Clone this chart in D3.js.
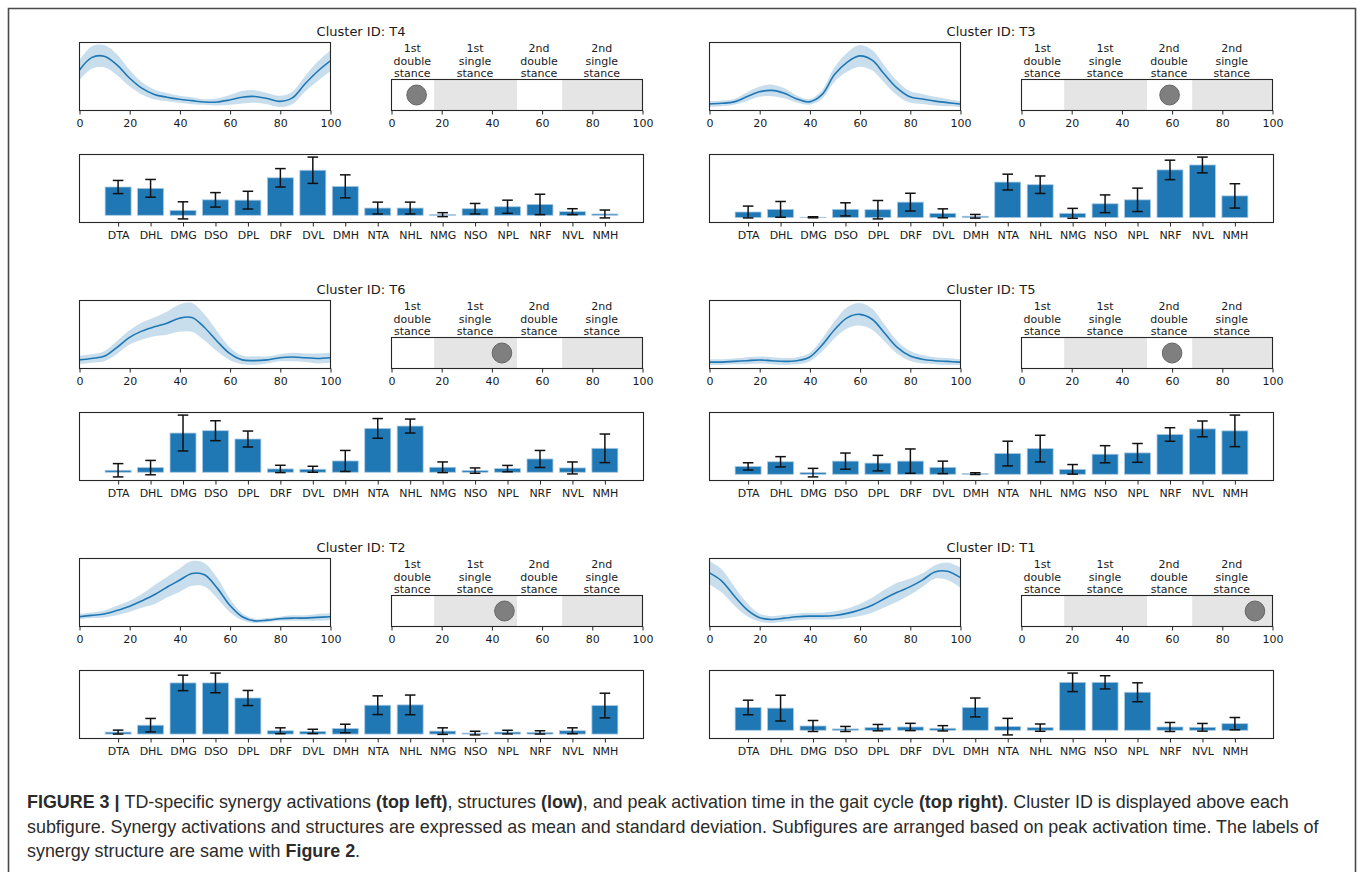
<!DOCTYPE html>
<html>
<head>
<meta charset="utf-8">
<script src="https://cdn.jsdelivr.net/npm/d3@7"></script>
<style>
  body { margin: 0; background: #fff; }
  svg { display: block; }
  .mpl text { font-family: "DejaVu Sans", sans-serif; fill: #1a1a1a; }
  .caption { font-family: "Liberation Sans", Arial, Helvetica, sans-serif; fill: #2b2b2b; }
</style>
</head>
<body>
<svg id="fig" width="1360" height="872"></svg>
<script>
// ---- data -------------------------------------------------------------
const gaitPct = [0, 5, 10, 15, 20, 25, 30, 35, 40, 45, 50, 55, 60, 65, 70, 75, 80, 85, 90, 95, 100];
const timeTicks = [0, 20, 40, 60, 80, 100];
const muscles = ["DTA", "DHL", "DMG", "DSO", "DPL", "DRF", "DVL", "DMH",
                 "NTA", "NHL", "NMG", "NSO", "NPL", "NRF", "NVL", "NMH"];
const phaseEdges = [0, 17, 50, 68, 100];
const phaseLabels = [["1st", "double", "stance"], ["1st", "single", "stance"],
                     ["2nd", "double", "stance"], ["2nd", "single", "stance"]];
const clusterIds = ["T4", "T3", "T6", "T5", "T2", "T1"];
const peakTimes = [10, 59, 44, 60, 45, 93];

// synergy activation (mean, sd) over the gait cycle
const t4ActMean = [0.57, 0.76, 0.78, 0.66, 0.47, 0.32, 0.23, 0.19, 0.16, 0.14, 0.12, 0.12, 0.15, 0.19, 0.20, 0.17, 0.13, 0.18, 0.38, 0.56, 0.71];
const t4ActSd   = [0.14, 0.16, 0.16, 0.15, 0.12, 0.09, 0.07, 0.06, 0.05, 0.05, 0.04, 0.05, 0.07, 0.09, 0.09, 0.08, 0.08, 0.09, 0.11, 0.14, 0.15];
const t3ActMean = [0.11, 0.12, 0.14, 0.21, 0.28, 0.30, 0.26, 0.18, 0.14, 0.24, 0.52, 0.69, 0.78, 0.72, 0.52, 0.33, 0.21, 0.18, 0.15, 0.13, 0.11];
const t3ActSd   = [0.04, 0.04, 0.04, 0.06, 0.07, 0.08, 0.07, 0.05, 0.04, 0.06, 0.10, 0.13, 0.15, 0.14, 0.12, 0.10, 0.08, 0.07, 0.06, 0.05, 0.04];
const t6ActMean = [0.13, 0.15, 0.18, 0.30, 0.44, 0.53, 0.59, 0.64, 0.71, 0.72, 0.58, 0.39, 0.22, 0.13, 0.12, 0.13, 0.16, 0.17, 0.16, 0.15, 0.16];
const t6ActSd   = [0.06, 0.06, 0.07, 0.09, 0.10, 0.12, 0.13, 0.16, 0.19, 0.20, 0.18, 0.14, 0.09, 0.06, 0.06, 0.05, 0.05, 0.06, 0.06, 0.07, 0.07];
const t5ActMean = [0.10, 0.10, 0.11, 0.12, 0.13, 0.12, 0.11, 0.12, 0.17, 0.34, 0.56, 0.73, 0.78, 0.71, 0.51, 0.31, 0.19, 0.14, 0.12, 0.11, 0.10];
const t5ActSd   = [0.04, 0.04, 0.04, 0.05, 0.05, 0.05, 0.05, 0.05, 0.06, 0.09, 0.12, 0.15, 0.16, 0.15, 0.12, 0.09, 0.07, 0.06, 0.05, 0.05, 0.04];
const t2ActMean = [0.13, 0.15, 0.17, 0.22, 0.28, 0.36, 0.45, 0.56, 0.66, 0.76, 0.74, 0.55, 0.30, 0.13, 0.07, 0.08, 0.10, 0.11, 0.11, 0.12, 0.13];
const t2ActSd   = [0.04, 0.04, 0.05, 0.07, 0.08, 0.10, 0.14, 0.15, 0.17, 0.18, 0.17, 0.15, 0.10, 0.05, 0.03, 0.03, 0.03, 0.04, 0.04, 0.05, 0.05];
const t1ActMean = [0.77, 0.65, 0.43, 0.23, 0.11, 0.08, 0.10, 0.12, 0.13, 0.13, 0.14, 0.17, 0.22, 0.29, 0.39, 0.48, 0.56, 0.66, 0.78, 0.79, 0.70];
const t1ActSd   = [0.17, 0.17, 0.14, 0.10, 0.06, 0.05, 0.05, 0.05, 0.05, 0.05, 0.06, 0.07, 0.09, 0.11, 0.13, 0.14, 0.12, 0.10, 0.10, 0.13, 0.15];

// synergy structure weights (mean, sd) per muscle
const t4Weight   = [0.43, 0.41, 0.075, 0.235, 0.23, 0.57, 0.685, 0.44, 0.11, 0.11, 0.01, 0.10, 0.13, 0.165, 0.055, 0.02];
const t4WeightSd = [0.10, 0.135, 0.13, 0.11, 0.135, 0.14, 0.20, 0.175, 0.09, 0.09, 0.03, 0.08, 0.10, 0.155, 0.045, 0.06];
const t3Weight   = [0.085, 0.125, 0.005, 0.125, 0.12, 0.235, 0.065, 0.02, 0.54, 0.50, 0.065, 0.21, 0.27, 0.725, 0.80, 0.33];
const t3WeightSd = [0.09, 0.12, 0.008, 0.10, 0.14, 0.135, 0.068, 0.028, 0.12, 0.133, 0.075, 0.135, 0.178, 0.148, 0.12, 0.185];
const t6Weight   = [0.03, 0.07, 0.59, 0.625, 0.50, 0.05, 0.045, 0.17, 0.66, 0.695, 0.075, 0.025, 0.055, 0.20, 0.065, 0.36];
const t6WeightSd = [0.10, 0.108, 0.27, 0.15, 0.12, 0.055, 0.045, 0.158, 0.148, 0.105, 0.08, 0.04, 0.048, 0.128, 0.09, 0.215];
const t5Weight   = [0.12, 0.19, 0.025, 0.20, 0.17, 0.20, 0.105, 0.01, 0.315, 0.39, 0.075, 0.305, 0.325, 0.605, 0.69, 0.66];
const t5WeightSd = [0.055, 0.078, 0.065, 0.123, 0.118, 0.185, 0.095, 0.013, 0.188, 0.203, 0.073, 0.13, 0.143, 0.103, 0.12, 0.24];
const t2Weight   = [0.03, 0.135, 0.78, 0.78, 0.55, 0.05, 0.04, 0.085, 0.44, 0.445, 0.045, 0.015, 0.03, 0.025, 0.05, 0.435];
const t2WeightSd = [0.03, 0.103, 0.118, 0.15, 0.115, 0.045, 0.033, 0.065, 0.143, 0.15, 0.05, 0.028, 0.028, 0.025, 0.045, 0.188];
const t1Weight   = [0.345, 0.335, 0.065, 0.02, 0.04, 0.05, 0.03, 0.345, 0.055, 0.04, 0.725, 0.725, 0.575, 0.05, 0.045, 0.10];
const t1WeightSd = [0.11, 0.195, 0.083, 0.038, 0.048, 0.055, 0.04, 0.143, 0.125, 0.055, 0.14, 0.10, 0.143, 0.068, 0.058, 0.093];

const actMeans = [t4ActMean, t3ActMean, t6ActMean, t5ActMean, t2ActMean, t1ActMean];
const actSds = [t4ActSd, t3ActSd, t6ActSd, t5ActSd, t2ActSd, t1ActSd];
const weights = [t4Weight, t3Weight, t6Weight, t5Weight, t2Weight, t1Weight];
const weightSds = [t4WeightSd, t3WeightSd, t6WeightSd, t5WeightSd, t2WeightSd, t1WeightSd];

// ---- layout -----------------------------------------------------------
const colX = [79, 709];
const rowY = [42, 300, 558];
const curveW = 251, curveH = 68;
const phaseOff = 312, phaseW = 251, phaseTop = 37;
const barTop = 112, barW = 564, barH = 68;

const blue = "#1f77b4";
const spine = "#262626";
const svg = d3.select("#fig");

// outer figure frame
svg.append("path")
  .attr("d", "M8.5,872 V8.5 H1355.5 V872")
  .attr("fill", "none").attr("stroke", "#4a4a4a").attr("stroke-width", 1.6);

function padded(lo, hi) {
  const m = (hi - lo) * 0.05;
  return [lo - m, hi + m];
}

function styleAxis(g) {
  g.select(".domain").remove();
  g.selectAll(".tick line").attr("stroke", spine).attr("stroke-width", 1);
  g.selectAll(".tick text").attr("font-size", 11).attr("fill", "#1a1a1a")
    .attr("font-family", "DejaVu Sans, sans-serif");
}

function frame(g, w, h) {
  g.append("rect").attr("x", 0.5).attr("y", 0.5).attr("width", w).attr("height", h)
    .attr("fill", "none").attr("stroke", spine).attr("stroke-width", 1.1);
}

clusterIds.forEach((id, i) => {
  const x0 = colX[i % 2], y0 = rowY[Math.floor(i / 2)];
  const root = svg.append("g").attr("class", "mpl");

  root.append("text")
    .attr("x", x0 + barW / 2).attr("y", y0 - 6)
    .attr("text-anchor", "middle").attr("font-size", 13)
    .text("Cluster ID: " + id);

  // --- activation curve with ±sd band
  const mean = actMeans[i], sd = actSds[i];
  const pts = gaitPct.map((t, k) => ({ t, m: mean[k], s: sd[k] }));
  const xs = d3.scaleLinear().domain([0, 100]).range([0, curveW]);
  const ys = d3.scaleLinear()
    .domain(padded(d3.min(pts, d => d.m - d.s), d3.max(pts, d => d.m + d.s)))
    .range([curveH, 0]);
  const gc = root.append("g").attr("transform", `translate(${x0},${y0})`);
  gc.append("defs").append("clipPath").attr("id", "clip" + id)
    .append("rect").attr("width", curveW).attr("height", curveH);
  const plot = gc.append("g").attr("clip-path", `url(#clip${id})`);
  plot.append("path").datum(pts)
    .attr("d", d3.area().curve(d3.curveCatmullRom)
      .x(d => xs(d.t)).y0(d => ys(d.m - d.s)).y1(d => ys(d.m + d.s)))
    .attr("fill", blue).attr("fill-opacity", 0.24);
  plot.append("path").datum(pts)
    .attr("d", d3.line().curve(d3.curveCatmullRom).x(d => xs(d.t)).y(d => ys(d.m)))
    .attr("fill", "none").attr("stroke", blue).attr("stroke-width", 1.6);
  frame(gc, curveW, curveH);
  gc.append("g").attr("transform", `translate(0.5,${curveH + 0.5})`)
    .call(d3.axisBottom(xs).tickValues(timeTicks).tickSize(4).tickPadding(4.5))
    .call(styleAxis);

  // --- gait phase strip with peak marker
  const px = d3.scaleLinear().domain([0, 100]).range([0, phaseW]);
  const gp = root.append("g").attr("transform", `translate(${x0 + phaseOff},${y0 + phaseTop})`);
  const ph = curveH - phaseTop;
  phaseLabels.forEach((lines, k) => {
    if (k % 2 === 1) {
      gp.append("rect")
        .attr("x", px(phaseEdges[k]) + 0.5).attr("y", 0.5)
        .attr("width", px(phaseEdges[k + 1]) - px(phaseEdges[k])).attr("height", ph)
        .attr("fill", "#e5e5e5");
    }
    const cx = px((phaseEdges[k] + phaseEdges[k + 1]) / 2);
    lines.forEach((s, j) => {
      gp.append("text")
        .attr("x", cx).attr("y", -27 + j * 12.7)
        .attr("text-anchor", "middle").attr("font-size", 11)
        .text(s);
    });
  });
  gp.append("ellipse")
    .attr("cx", px(peakTimes[i]) + 0.5).attr("cy", ph / 2 + 0.5)
    .attr("rx", 9.8).attr("ry", 10)
    .attr("fill", "#7f7f7f").attr("stroke", "#666").attr("stroke-width", 1);
  frame(gp, phaseW, ph);
  gp.append("g").attr("transform", `translate(0.5,${ph + 0.5})`)
    .call(d3.axisBottom(px).tickValues(timeTicks).tickSize(4).tickPadding(4.5))
    .call(styleAxis);

  // --- synergy structure bars with sd error bars
  const w = weights[i], ws = weightSds[i];
  const n = muscles.length;
  const mx = 0.05 * (n - 1 + 0.8);
  const bx = d3.scaleLinear().domain([-0.4 - mx, n - 1 + 0.4 + mx]).range([0, barW]);
  const by = d3.scaleLinear()
    .domain(padded(Math.min(0, d3.min(w, (v, k) => v - ws[k])), d3.max(w, (v, k) => v + ws[k])))
    .range([barH, 0]);
  const gb = root.append("g").attr("transform", `translate(${x0},${y0 + barTop})`);
  const bw = bx(0.4) - bx(-0.4);
  gb.selectAll("rect.bar").data(w).join("rect").attr("class", "bar")
    .attr("x", (v, k) => bx(k) - bw / 2 + 0.5)
    .attr("y", v => by(Math.max(0, v)))
    .attr("width", bw)
    .attr("height", v => Math.abs(by(0) - by(v)))
    .attr("fill", blue).attr("stroke", "#a9c9e3").attr("stroke-width", 0.8);
  const eb = gb.selectAll("g.err").data(w).join("g").attr("class", "err")
    .attr("stroke", "#111").attr("stroke-width", 1.5);
  eb.append("line")
    .attr("x1", (v, k) => bx(k) + 0.5).attr("x2", (v, k) => bx(k) + 0.5)
    .attr("y1", (v, k) => by(v - ws[k])).attr("y2", (v, k) => by(v + ws[k]));
  [-1, 1].forEach(sgn => {
    eb.append("line")
      .attr("x1", (v, k) => bx(k) - 5.3 + 0.5).attr("x2", (v, k) => bx(k) + 5.3 + 0.5)
      .attr("y1", (v, k) => by(v + sgn * ws[k])).attr("y2", (v, k) => by(v + sgn * ws[k]));
  });
  frame(gb, barW, barH);
  const bAxis = d3.axisBottom(bx).tickValues(d3.range(n)).tickFormat(k => muscles[k])
    .tickSize(4).tickPadding(5);
  gb.append("g").attr("transform", `translate(0.5,${barH + 0.5})`).call(bAxis).call(styleAxis);
});

// ---- caption ------------------------------------------------------------
const capLines = [
  [["FIGURE 3 | ", true], ["TD-specific synergy activations ", false], ["(top left)", true],
   [", structures ", false], ["(low)", true], [", and peak activation time in the gait cycle ", false],
   ["(top right)", true], [". Cluster ID is displayed above each", false]],
  [["subfigure. Synergy activations and structures are expressed as mean and standard deviation. Subfigures are arranged based on peak activation time. The labels of", false]],
  [["synergy structure are same with ", false], ["Figure 2", true], [".", false]]
];
const capBase = [808, 833, 857];
capLines.forEach((parts, li) => {
  const t = svg.append("text").attr("class", "caption")
    .attr("x", 27).attr("y", capBase[li]).attr("font-size", 17.9);
  parts.forEach(([s, b]) => {
    t.append("tspan").attr("font-weight", b ? "bold" : "normal")
      .attr("xml:space", "preserve").style("white-space", "pre").text(s);
  });
});
</script>
</body>
</html>
